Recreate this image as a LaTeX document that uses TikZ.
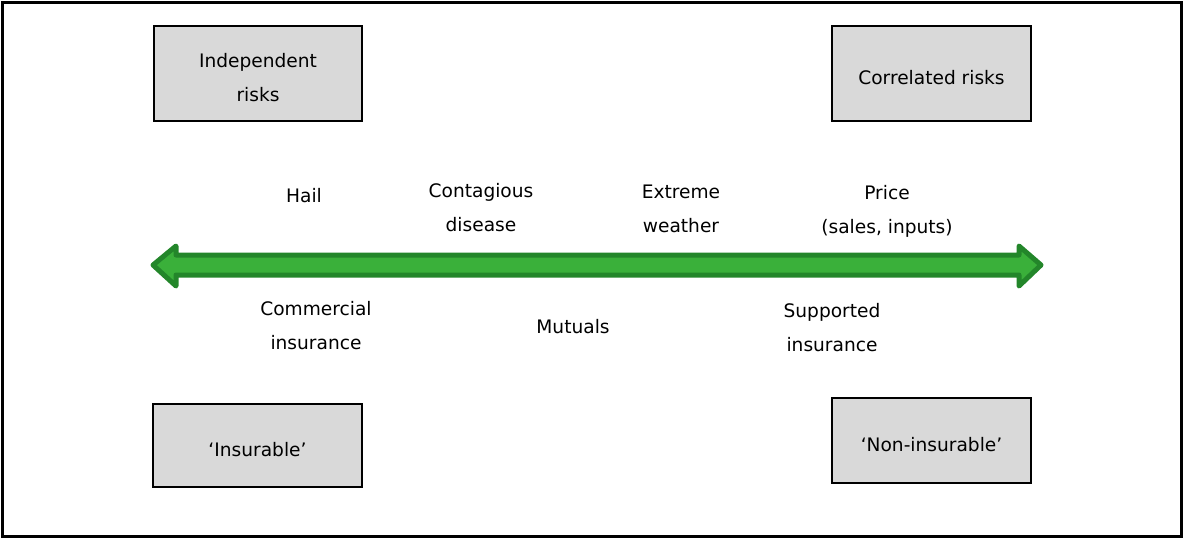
\documentclass[tikz,border=0pt]{standalone}
\usepackage{fontspec}
\setmainfont{DejaVu Sans}
\usetikzlibrary{positioning}
\definecolor{boxgrey}{HTML}{D9D9D9}
\definecolor{arrowfill}{HTML}{3AB03A}
\definecolor{arrowline}{HTML}{23862A}

\begin{document}
\begin{tikzpicture}[x=0.5pt,y=-0.5pt,
	riskbox/.style={draw=black,line width=1.4pt,fill=boxgrey,inner sep=0pt},
	lbl/.style={align=center,font=\fontsize{9.3}{17}\selectfont,inner sep=0pt}]
	\useasboundingbox (0,0) rectangle (1183,538);
	\draw[line width=1.5pt] (2,2) rectangle (1181,536);
	\node[riskbox,minimum width=104pt,minimum height=47.5pt] (indep) at (258,73.5) {};
	\node[riskbox,minimum width=99.5pt,minimum height=47.5pt] (correl) at (931.5,73.5) {};
	\node[riskbox,minimum width=104.5pt,minimum height=41.5pt] (insur) at (257.5,445.5) {};
	\node[riskbox,minimum width=99.5pt,minimum height=42.5pt] (noninsur) at (931.5,440.5) {};
	\node[lbl] (indeptext) at ([yshift=-2pt]indep.center) {Independent\\risks};
	\node[lbl] (correltext) at ([yshift=-2pt]correl.center) {Correlated risks};
	\node[lbl] (insurtext) at ([yshift=-2pt]insur.center) {‘Insurable’};
	\node[lbl] (noninsurtext) at ([yshift=-2pt]noninsur.center) {‘Non-insurable’};
	\fill[arrowfill,draw=arrowline,line width=2.5pt,line join=round]
	(153,265) -- (176,246) -- (176,255) -- (1019,255) -- (1019,246) -- (1041,265)
	-- (1019,286) -- (1019,275) -- (176,275) -- (176,286) -- cycle;
	\node[lbl] (hail) at (304,196) {Hail};
	\node[lbl] (disease) at (481,208) {Contagious\\disease};
	\node[lbl] (weather) at (681,209) {Extreme\\weather};
	\node[lbl] (price) at (887,211) {Price\\(sales, inputs)};
	\node[lbl] (commercial) at (316,326) {Commercial\\insurance};
	\node[lbl] (mutuals) at (573,327) {Mutuals};
	\node[lbl] (supported) at (832,328) {Supported\\insurance};
\end{tikzpicture}
\end{document}
